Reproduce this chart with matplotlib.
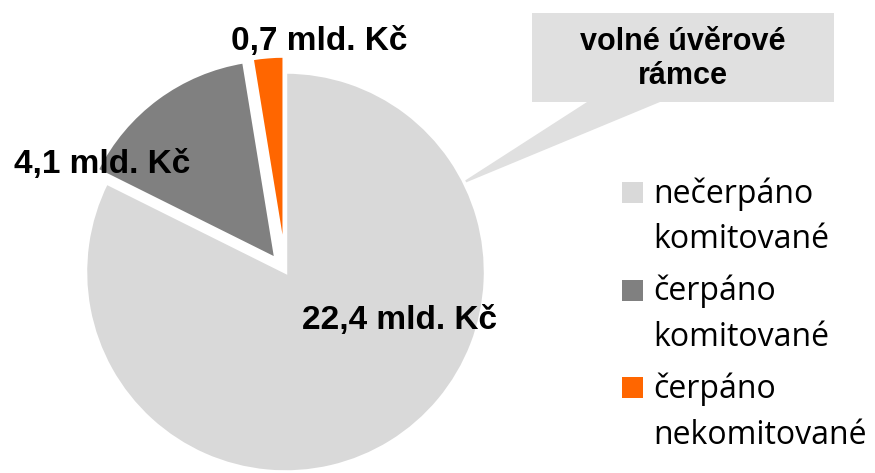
import matplotlib
matplotlib.use("Agg")
import matplotlib.pyplot as plt
from matplotlib.patches import Polygon, Rectangle

categories = ["nečerpáno\nkomitované", "čerpáno\nkomitované", "čerpáno\nnekomitované"]
values = [22.4, 4.1, 0.7]
value_labels = ["22,4 mld. Kč", "4,1 mld. Kč", "0,7 mld. Kč"]
colors = ["#d9d9d9", "#808080", "#ff6600"]
explode = [0, 16, 16]
callout_text = "volné úvěrové\nrámce"

W, H = 875, 473
fig = plt.figure(figsize=(W / 100, H / 100), dpi=100)
ax = fig.add_axes([0, 0, 1, 1])

R = 200
cx, cy = 285.5, H - 272
wedges, _ = ax.pie(values, colors=colors, explode=explode, startangle=90,
                   counterclock=False, center=(cx, cy), radius=R,
                   wedgeprops=dict(edgecolor="white", linewidth=2.5),
                   frame=True)
ax.set_xlim(0, W)
ax.set_ylim(0, H)
ax.set_aspect("equal")
ax.axis("off")

# Callout
box = [(532, H - 13), (834, H - 13), (834, H - 102), (660, H - 102),
       (455, H - 187), (587, H - 102), (532, H - 102)]
ax.add_patch(Polygon(box, closed=True, facecolor="#e0e0e0", edgecolor="none", zorder=0.5))
ax.text(683, H - 59, callout_text, ha="center", va="center", fontsize=22,
        fontweight="bold", family="Liberation Sans", linespacing=1.2)

# Value labels
lab_font = dict(fontsize=24, fontweight="bold", family="Liberation Sans", va="center")
ax.text(400, H - 321, value_labels[0], ha="center", **lab_font)
ax.text(14, H - 165, value_labels[1], ha="left", **lab_font)
ax.text(319, H - 42, value_labels[2], ha="center", **lab_font)

# Legend (manual layout)
first_baseline = 203
entry_step = 97.5
line_step = 45.5
sq = 21
for i, (lab, col) in enumerate(zip(categories, colors)):
    b = first_baseline + i * entry_step
    ax.add_patch(Rectangle((622, H - b), sq, sq, facecolor=col, edgecolor="none"))
    for j, line in enumerate(lab.split("\n")):
        ax.text(653, H - (b + j * line_step), line, ha="left", va="baseline",
                fontsize=23, family="Open Sans")

fig.savefig("out.png", dpi=100)
